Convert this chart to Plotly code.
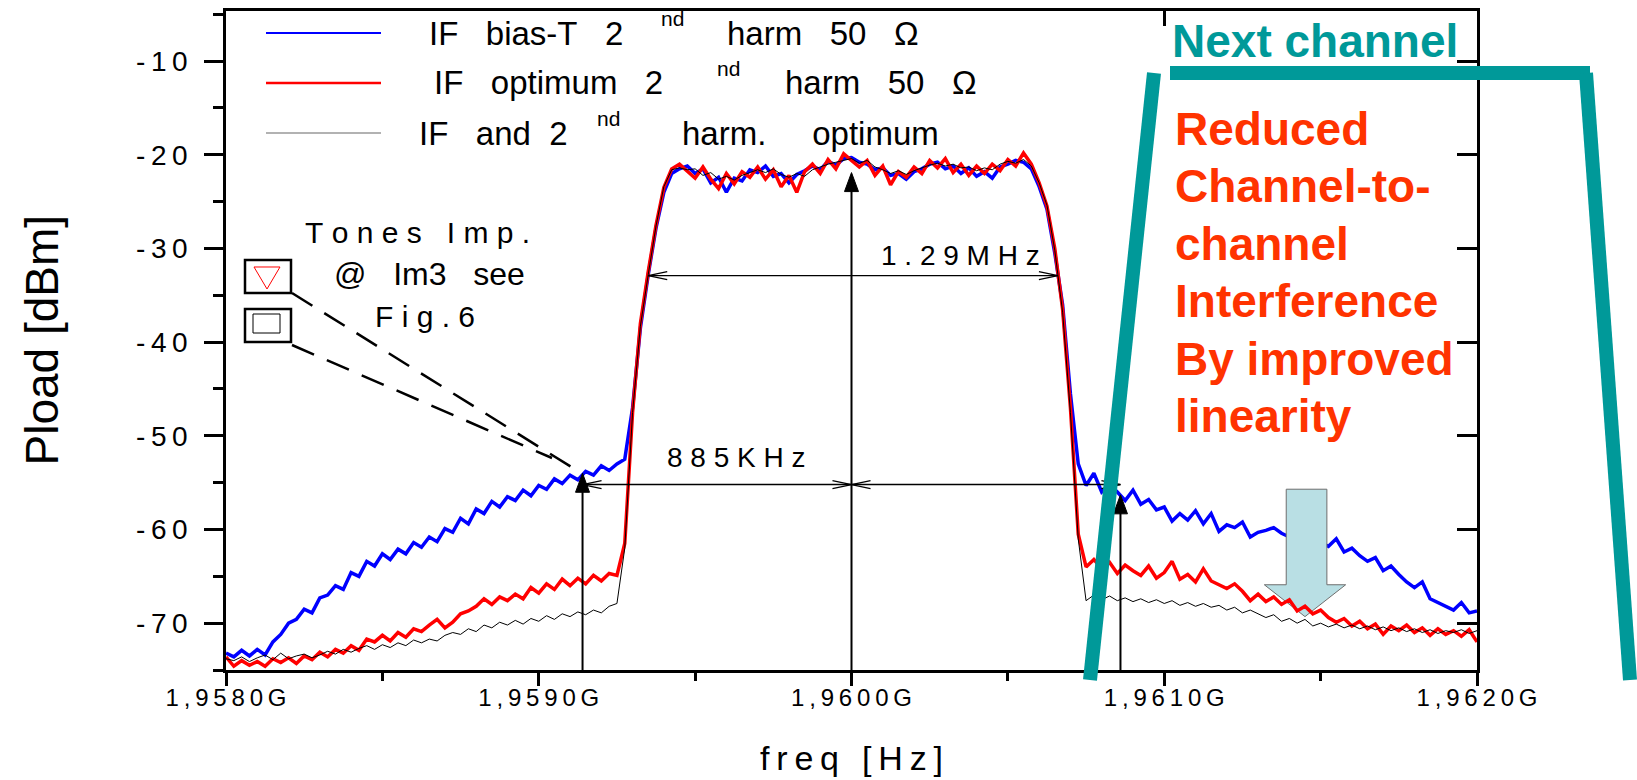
import numpy as np
import plotly.graph_objects as go

# ---------------- data ----------------
FREQ_START_GHZ = 1.958
FREQ_STOP_GHZ = 1.962
N_POINTS = 161
freq_ghz = np.linspace(FREQ_START_GHZ, FREQ_STOP_GHZ, N_POINTS)
Y_MIN, Y_MAX = -75, -4.65

series_names = ["IF bias-T 2nd harm 50 Ω", "IF optimum 2nd harm 50 Ω", "IF and 2nd harm. optimum"]

p_bias_t = [
    -73.2, -73.6, -72.9, -73.5, -72.8, -73.4, -72.0, -71.2, -70.0, -69.6,
    -68.5, -68.9, -67.3, -67.0, -66.0, -66.4, -64.6, -65.0, -63.4, -63.9,
    -62.6, -63.2, -62.1, -62.6, -61.4, -61.9, -60.8, -61.3, -59.9, -60.3,
    -58.8, -59.4, -57.8, -58.3, -57.0, -57.6, -56.5, -56.9, -55.8, -56.4,
    -55.3, -55.7, -54.6, -55.1, -54.2, -54.7, -53.8, -54.2, -53.2, -53.7,
    -53.0, -52.5, -47.0, -38.5, -32.8, -27.8, -24.0, -22.0, -21.5, -21.2,
    -22.0, -21.5, -23.0, -22.4, -24.0, -22.5, -22.8, -21.6, -21.9, -21.2,
    -22.3, -22.0, -23.0, -22.1, -21.7, -21.2, -21.6, -20.7, -21.1, -20.4,
    -20.3, -20.8, -21.0, -21.6, -21.4, -22.2, -22.0, -22.6, -21.8, -21.5,
    -21.0, -20.8, -21.5, -21.2, -22.0, -21.4, -22.3, -21.8, -22.5, -21.3,
    -21.0, -20.6, -20.8, -21.5, -23.4, -25.8, -30.5, -36.0, -45.5, -53.0,
    -55.3, -54.0, -56.0, -55.2, -56.0, -56.9, -55.8, -57.3, -56.8, -57.9,
    -57.6, -59.1, -58.3, -59.0, -58.0, -59.4, -58.3, -60.2, -59.5, -59.8,
    -59.2, -60.8, -60.3, -60.1, -59.8, -60.4, -60.8, -60.5, -61.0, -60.7,
    -61.4, -61.8, -61.0, -62.4, -62.0, -62.8, -63.4, -63.0, -64.4, -63.9,
    -64.8, -65.6, -66.2, -65.6, -67.4, -67.8, -68.2, -68.6, -67.8, -68.9,
    -68.7,
]

p_if_opt = [
    -73.6, -74.6, -74.0, -74.5, -74.1, -74.6, -73.8, -74.2, -73.7, -74.3,
    -73.5, -73.9, -73.1, -73.6, -72.8, -73.2, -72.4, -72.9, -71.7, -72.0,
    -71.3, -71.9, -71.0, -71.5, -70.6, -70.9, -70.2, -69.6, -70.5, -69.9,
    -69.0, -68.7, -68.2, -67.4, -68.0, -67.2, -67.6, -66.9, -67.4, -66.2,
    -66.8, -65.8, -66.4, -65.3, -66.0, -65.2, -65.8, -64.9, -65.5, -64.7,
    -64.9, -61.5, -47.5, -38.0, -32.5, -27.5, -23.5, -21.5, -21.0, -21.7,
    -22.5, -21.3, -22.6, -23.6, -22.0, -23.1, -21.8, -22.4, -21.3, -22.6,
    -21.6, -23.4, -22.2, -24.0, -21.8, -21.0, -22.0, -20.5, -21.5, -19.9,
    -20.6, -21.3, -20.6, -22.2, -21.2, -23.2, -21.8, -22.4, -21.3, -22.0,
    -20.6, -21.4, -20.4, -21.9, -21.0, -22.2, -21.2, -22.0, -21.0, -21.7,
    -20.5, -21.2, -19.8, -21.0, -23.0, -25.5, -30.0, -36.5, -47.0, -60.5,
    -64.0, -63.2, -64.2, -63.5, -64.7, -63.8, -64.4, -64.9, -63.9, -65.2,
    -64.6, -63.4, -65.3, -64.8, -65.6, -64.2, -65.5, -65.9, -66.3, -65.8,
    -66.6, -67.6, -66.9, -67.7, -67.2, -68.0, -67.5, -68.7, -68.2, -69.0,
    -68.6, -69.4, -69.9, -69.5, -70.3, -69.8, -70.6, -70.1, -71.2, -70.3,
    -70.8, -70.2, -71.0, -70.5, -71.3, -70.6, -71.2, -70.8, -71.4, -70.7,
    -72.0,
]

p_both_opt = [
    -73.8, -74.0, -73.6, -74.1, -73.7, -73.4, -73.9, -73.2, -73.8, -73.5,
    -73.3, -73.7, -73.4, -73.0, -73.3, -72.8, -73.1, -72.7, -72.4, -72.8,
    -72.3, -72.6, -72.1, -72.4, -71.8, -72.1, -71.7, -71.9, -71.3, -71.0,
    -71.2, -70.6, -70.9, -70.2, -70.5, -69.9, -70.2, -69.7, -70.1, -69.5,
    -69.8, -69.2, -69.6, -69.0, -69.3, -68.8, -69.1, -68.6, -68.9, -68.2,
    -67.9, -62.0, -47.5, -38.3, -32.8, -27.6, -23.4, -21.6, -21.4, -21.6,
    -21.5, -22.2, -21.9, -22.6, -22.3, -22.7, -22.2, -21.9, -21.6, -21.9,
    -21.5, -22.1, -22.4, -22.0, -22.3, -21.6, -21.3, -21.0, -20.8, -20.6,
    -20.4, -20.9, -20.6, -21.3, -21.6, -22.0, -21.7, -22.1, -21.7, -21.4,
    -21.1, -20.9, -21.2, -21.0, -21.4, -21.3, -21.7, -21.4, -21.6, -21.0,
    -20.7, -20.9, -20.5, -21.2, -23.0, -25.4, -30.2, -36.8, -47.5, -61.0,
    -67.6, -67.0, -67.5, -67.1, -67.6, -67.3, -67.7, -67.4, -67.8, -67.5,
    -67.9, -67.6, -68.1, -67.8, -68.2, -67.9, -68.3, -68.1, -68.6, -68.3,
    -68.9, -68.6, -69.0, -69.4, -69.1, -69.8, -69.5, -70.0, -69.6, -70.3,
    -70.0, -70.4, -70.1, -70.5, -70.2, -70.6, -70.3, -70.7, -70.4, -70.8,
    -70.5, -70.9, -70.6, -71.0, -70.7, -71.1, -70.8, -71.0, -70.7, -71.1,
    -70.8,
]

x_tickvals = [1.958, 1.959, 1.960, 1.961, 1.962]
x_ticktext = ["1,9580G", "1,9590G", "1,9600G", "1,9610G", "1,9620G"]
y_tickvals = [-70, -60, -50, -40, -30, -20, -10]
y_ticktext = ["-70", "-60", "-50", "-40", "-30", "-20", "-10"]
x_title = "freq [Hz]"
y_title = "Pload [dBm]"

# measurement markers (data units)
center_freq = 1.9600
center_peak = -21.9
bw_left_freq, bw_right_freq, bw_level = 1.95935, 1.96066, -32.9
adj_left_freq, adj_right_freq, adj_level = 1.95914, 1.96086, -55.2
adj_left_tip, adj_right_tip = -54.0, -56.3

# big light-blue "improvement" arrow outline (data units)
big_arrow_x = [1.96139, 1.96152, 1.96152, 1.96158, 1.96145, 1.96132, 1.96139, 1.96139]
big_arrow_y = [-55.7, -55.7, -65.9, -65.9, -69.3, -65.9, -65.9, -55.7]

# ---------------- styling ----------------
FONT = "Liberation Sans, Arial, sans-serif"
BLUE, RED, BLACK = "#0000FF", "#FF0000", "#000000"
TEAL = "#009999"
ORANGE_RED = "#FF3300"
W, H = 1637, 780
L, R, T, B = 226, 160, 11, 110
PW, PH = W - L - R, H - T - B
NB = "\u00a0"
THIN = "\u2009"
GHZ_PER_PX = (FREQ_STOP_GHZ - FREQ_START_GHZ) / PW
DB_PER_PX = (Y_MAX - Y_MIN) / PH
CLEAR = "rgba(0,0,0,0)"


def track(s, sep=NB):
    return sep.join(NB if c == " " else c for c in s)


def px_x(px):
    return (px - L) / PW


def px_y(py):
    return (T + PH - py) / PH


fig = go.Figure()
fig.add_trace(go.Scatter(x=freq_ghz, y=p_bias_t, mode="lines", name=series_names[0],
                         line=dict(color=BLUE, width=3.5), showlegend=False))
fig.add_trace(go.Scatter(x=big_arrow_x, y=big_arrow_y, mode="lines", fill="toself",
                         fillcolor="#B9DFE4", line=dict(color="#6E6E6E", width=1),
                         showlegend=False, hoverinfo="skip"))
fig.add_trace(go.Scatter(x=freq_ghz, y=p_if_opt, mode="lines", name=series_names[1],
                         line=dict(color=RED, width=3.5), showlegend=False))
fig.add_trace(go.Scatter(x=freq_ghz, y=p_both_opt, mode="lines", name=series_names[2],
                         line=dict(color=BLACK, width=1), showlegend=False))
# carriers for the extra tick-only axes (top / right / bottom ticks / left ticks)
for xa, ya in (("x2", "y2"), ("x3", "y"), ("x", "y3")):
    fig.add_trace(go.Scatter(x=[], y=[], xaxis=xa, yaxis=ya, showlegend=False, hoverinfo="skip"))

annotations = []
shapes = []


# ---- measurement arrows (drawn as shapes in data units) ----
def v_arrow(xf, y_tip, y_base=Y_MIN):
    hw, hl = 7 * GHZ_PER_PX, 19 * DB_PER_PX
    shapes.append(dict(type="line", xref="x", yref="y", x0=xf, x1=xf, y0=y_base, y1=y_tip - hl * 0.6,
                       line=dict(color="black", width=2)))
    shapes.append(dict(type="path", xref="x", yref="y",
                       path="M %.7f,%.4f L %.7f,%.4f L %.7f,%.4f Z" % (xf, y_tip, xf - hw, y_tip - hl, xf + hw, y_tip - hl),
                       fillcolor="black", line=dict(color="black", width=1)))


def h_double(x_left, x_right, y):
    hl, hw = 19 * GHZ_PER_PX, 4 * DB_PER_PX
    shapes.append(dict(type="line", xref="x", yref="y", x0=x_left, x1=x_right, y0=y, y1=y,
                       line=dict(color="black", width=1.3)))
    for tip, back in ((x_left, x_left + hl), (x_right, x_right - hl)):
        shapes.append(dict(type="path", xref="x", yref="y",
                           path="M %.7f,%.4f L %.7f,%.4f L %.7f,%.4f" % (back, y + hw, tip, y, back, y - hw),
                           line=dict(color="black", width=1.3)))


v_arrow(center_freq, center_peak)
v_arrow(adj_left_freq, adj_left_tip)
v_arrow(adj_right_freq, adj_right_tip)
h_double(bw_left_freq, bw_right_freq, bw_level)
h_double(adj_left_freq, center_freq, adj_level)
h_double(center_freq, adj_right_freq, adj_level)


# ---- plain texts ----
def text_at(txt, left_px, baseline_px, size, color="black", bold=False):
    return dict(x=px_x(left_px), y=px_y(baseline_px - 0.35 * size), xref="paper", yref="paper",
                xanchor="left", yanchor="middle", showarrow=False, text=("<b>%s</b>" % txt) if bold else txt,
                font=dict(family=FONT, size=size, color=color))


annotations.append(text_at(track("1.29MHz"), 879, 265, 28))
annotations.append(text_at(track("885KHz"), 665, 467, 28))
annotations.append(text_at(track("Tones Imp."), 303, 243, 30))
annotations.append(text_at("@" + NB * 3 + "Im3" + NB * 3 + "see", 332, 285, 32))
annotations.append(text_at(track("Fig.6"), 373, 327, 30))

# axis titles
annotations.append(dict(x=px_x(851.5), y=px_y(770 - 0.35 * 34), xref="paper", yref="paper",
                        xanchor="center", yanchor="middle", showarrow=False, text=track(x_title, THIN),
                        font=dict(family=FONT, size=34, color="black")))
annotations.append(dict(x=px_x(41), y=px_y(340.5), xref="paper", yref="paper", textangle=-90,
                        xanchor="center", yanchor="middle", showarrow=False, text=y_title,
                        font=dict(family=FONT, size=46, color="black")))

# ---- legend (drawn by hand, long line samples) ----
# (text before superscript, left px), (superscript left px), (text after, left px), line colour, width
legend_rows = [
    ("IF" + NB * 3 + "bias-T" + NB * 3 + "2", 427, 659, "harm" + NB * 3 + "50" + NB * 3 + "Ω", 725, BLUE, 2.2),
    ("IF" + NB * 3 + "optimum" + NB * 3 + "2", 432, 715, "harm" + NB * 3 + "50" + NB * 3 + "Ω", 783, RED, 2.6),
    ("IF" + NB * 3 + "and" + NB * 2 + "2", 417, 595, "harm." + NB * 5 + "optimum", 680, "#666666", 1.2),
]
for i, (pre, pre_x, sup_x, post, post_x, col, lw) in enumerate(legend_rows):
    yc = 33 + 50 * i - (0.5 if i == 1 else 0)
    baseline = yc + 12
    shapes.append(dict(type="line", xref="paper", yref="paper", x0=px_x(266), x1=px_x(381),
                       y0=px_y(33 + 50 * i), y1=px_y(33 + 50 * i), line=dict(color=col, width=lw), layer="above"))
    annotations.append(text_at(pre, pre_x, baseline, 33))
    annotations.append(text_at("nd", sup_x, baseline - 19, 21))
    annotations.append(text_at(post, post_x, baseline, 33))

# ---- tone-marker boxes and dashed leaders ----
shapes.append(dict(type="rect", xref="paper", yref="paper", x0=px_x(245), x1=px_x(291), y0=px_y(260), y1=px_y(293),
                   line=dict(color="black", width=2.5), layer="above"))
shapes.append(dict(type="path", xref="paper", yref="paper",
                   path="M %f,%f L %f,%f L %f,%f Z" % (px_x(254), px_y(267), px_x(280), px_y(267), px_x(267), px_y(289)),
                   line=dict(color=RED, width=1), layer="above"))
shapes.append(dict(type="rect", xref="paper", yref="paper", x0=px_x(245), x1=px_x(291), y0=px_y(309), y1=px_y(342),
                   line=dict(color="black", width=2.5), layer="above"))
shapes.append(dict(type="rect", xref="paper", yref="paper", x0=px_x(253), x1=px_x(280), y0=px_y(314), y1=px_y(333),
                   line=dict(color="black", width=1), layer="above"))
shapes.append(dict(type="line", xref="paper", yref="paper", x0=px_x(292), y0=px_y(293), x1=px_x(581), y1=px_y(473),
                   line=dict(color="black", width=2.5, dash="24px,14px"), layer="above"))
shapes.append(dict(type="line", xref="paper", yref="paper", x0=px_x(292), y0=px_y(345), x1=px_x(552), y1=px_y(458),
                   line=dict(color="black", width=2.5, dash="24px,14px"), layer="above"))

# ---- next-channel mask (teal) ----
shapes.append(dict(type="line", xref="paper", yref="paper", x0=px_x(1154), y0=px_y(73), x1=px_x(1090), y1=px_y(680),
                   line=dict(color=TEAL, width=14), layer="above"))
shapes.append(dict(type="line", xref="paper", yref="paper", x0=px_x(1170), y0=px_y(73), x1=px_x(1590), y1=px_y(73),
                   line=dict(color=TEAL, width=14), layer="above"))
shapes.append(dict(type="line", xref="paper", yref="paper", x0=px_x(1586), y0=px_y(73), x1=px_x(1630), y1=px_y(680),
                   line=dict(color=TEAL, width=14), layer="above"))
annotations.append(text_at("Next channel", 1170, 57, 46, color=TEAL, bold=True))

red_lines = ["Reduced", "Channel-to-", "channel", "Interference", "By improved", "linearity"]
for i, line in enumerate(red_lines):
    annotations.append(text_at(line, 1173, 145 + 57.4 * i, 46, color=ORANGE_RED, bold=True))

axis_common = dict(showgrid=False, zeroline=False, showline=True, linecolor="black", linewidth=2.5,
                   tickcolor="black", tickwidth=2.5, automargin=False)

fig.update_layout(
    template="none",
    width=W, height=H,
    margin=dict(l=L, r=R, t=T, b=B, pad=0),
    paper_bgcolor="white", plot_bgcolor="white",
    font=dict(family=FONT, color="black"),
    showlegend=False,
    # label-carrying axes (their own ticks are transparent; length only sets label distance)
    xaxis=dict(range=[FREQ_START_GHZ, FREQ_STOP_GHZ], tickmode="array", tickvals=x_tickvals,
               ticktext=[track(t, THIN) for t in x_ticktext], ticks="outside", ticklen=4,
               tickfont=dict(family=FONT, size=24, color="black"),
               **{**axis_common, "tickcolor": CLEAR}),
    yaxis=dict(range=[Y_MIN, Y_MAX], tickmode="array", tickvals=y_tickvals,
               ticktext=[track(t, THIN) for t in y_ticktext], ticks="outside", ticklen=30,
               tickfont=dict(family=FONT, size=28, color="black"),
               **{**axis_common, "tickcolor": CLEAR}),
    # visible outside ticks (bottom / left)
    xaxis3=dict(range=[FREQ_START_GHZ, FREQ_STOP_GHZ], overlaying="x", side="bottom", anchor="y",
                tickmode="array", tickvals=x_tickvals, ticks="outside", ticklen=13, showticklabels=False,
                minor=dict(ticks="outside", ticklen=8, tickwidth=2.5, tickcolor="black",
                           tick0=FREQ_START_GHZ, dtick=0.0005, showgrid=False),
                **axis_common),
    yaxis3=dict(range=[Y_MIN, Y_MAX], overlaying="y", side="left", anchor="x",
                tickmode="array", tickvals=y_tickvals, ticks="outside", ticklen=19, showticklabels=False,
                minor=dict(ticks="outside", ticklen=10, tickwidth=2.5, tickcolor="black",
                           tick0=Y_MIN, dtick=5, showgrid=False),
                **axis_common),
    # mirrored frame with inward ticks (top / right)
    xaxis2=dict(range=[FREQ_START_GHZ, FREQ_STOP_GHZ], overlaying="x", side="top", anchor="y2",
                tickmode="array", tickvals=[1.961], ticks="inside", ticklen=15, showticklabels=False,
                **axis_common),
    yaxis2=dict(range=[Y_MIN, Y_MAX], overlaying="y", side="right", anchor="x2",
                tickmode="array", tickvals=y_tickvals, ticks="inside", ticklen=20, showticklabels=False,
                **axis_common),
    annotations=annotations,
    shapes=shapes,
)

fig.write_html("out.html")
